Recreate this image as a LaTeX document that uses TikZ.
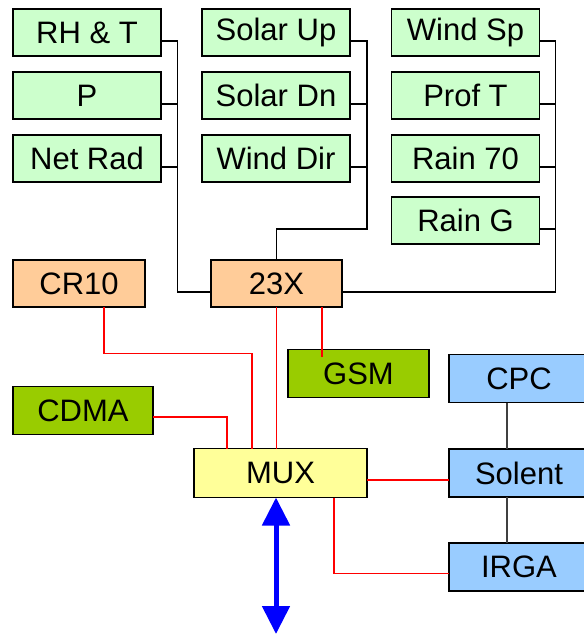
\documentclass[tikz,border=0pt]{standalone}
\usepackage{fontspec}
\setmainfont{Liberation Sans}
\usepackage{tikz}
\usetikzlibrary{arrows.meta,calc}
\usepackage{xcolor}
\definecolor{sensfill}{HTML}{CCFFCC}
\definecolor{logfill}{HTML}{FFCC99}
\definecolor{modfill}{HTML}{99CC00}
\definecolor{muxfill}{HTML}{FFFF99}
\definecolor{insfill}{HTML}{99CCFF}
\tikzset{
  box/.style={draw=black,line width=1.6pt,inner sep=0pt,outer sep=0pt,minimum height=47pt},
  sensor/.style={box,fill=sensfill,minimum width=148pt},
  logger/.style={box,fill=logfill,minimum width=132pt},
  modem/.style={box,fill=modfill,minimum width=140pt,minimum height=48pt},
  muxbox/.style={box,fill=muxfill,minimum width=173pt,minimum height=49pt},
  instr/.style={box,fill=insfill,minimum width=140pt,minimum height=48pt},
  wire/.style={draw=black,line width=1.5pt},
  rwire/.style={draw=red,line width=1.7pt},
  gwire/.style={draw=black!75,line width=1.7pt}
}

\begin{document}
\begin{tikzpicture}[x=1pt,y=-1pt,font=\fontsize{31}{36}\selectfont]
    \useasboundingbox (0,0) rectangle (584,635);
    % sensors
    \node[sensor] (rh) at (87,32.5) {RH \& T};
    \node[sensor] (p) at (87,95.5) {P};
    \node[sensor] (netrad) at (87,158.5) {Net Rad};
    \node[sensor] (solup) at (276,32.5) {Solar Up};
    \node[sensor] (soldn) at (276,95.5) {Solar Dn};
    \node[sensor] (winddir) at (276,158.5) {Wind Dir};
    \node[sensor] (windsp) at (465.5,32.5) {Wind Sp};
    \node[sensor] (proft) at (465.5,95.5) {Prof T};
    \node[sensor] (rain70) at (465.5,158.5) {Rain 70};
    \node[sensor] (raing) at (465.5,220.5) {Rain G};
    % loggers, modems
    \node[logger] (cr10) at (79,283.5) {CR10};
    \node[logger,minimum width=131pt] (x23) at (276.5,283.5) {23X};
    \node[modem,minimum width=141pt] (gsm) at (358.5,373.5) {GSM};
    \node[modem] (cdma) at (83,410.5) {CDMA};
    \node[muxbox] (mux) at (280.5,473) {MUX};
    \node[instr] (cpc) at (519,378.5) {CPC};
    \node[instr] (solent) at (519,473) {Solent};
    \node[instr] (irga) at (519,567) {IRGA};
    \coordinate (ext) at (276,634);

    % sensor buses to 23X
    \draw[wire] ([yshift=-8.5pt]rh.east) -| ([xshift=-33.5pt,yshift=-8.5pt]x23.west) -- ([yshift=-8.5pt]x23.west);
    \draw[wire] ([yshift=-8.5pt]p.east) -- ++(16.5,0);
    \draw[wire] ([yshift=-8.5pt]netrad.east) -- ++(16.5,0);
    \draw[wire] ([yshift=-8.5pt]solup.east) -- ++(17,0) |- ([yshift=31pt]x23.north) -- (x23.north);
    \draw[wire] ([yshift=-8.5pt]soldn.east) -- ++(17,0);
    \draw[wire] ([yshift=-8.5pt]winddir.east) -- ++(17,0);
    \draw[wire] ([yshift=-8.5pt]windsp.east) -- ++(16,0) |- ([yshift=-8.5pt]x23.east);
    \draw[wire] ([yshift=-8.5pt]proft.east) -- ++(16,0);
    \draw[wire] ([yshift=-8.5pt]rain70.east) -- ++(16,0);
    \draw[wire] ([yshift=-8.5pt]raing.east) -- ++(16,0);

    % links to MUX
    \draw[rwire] ([xshift=25pt]cr10.south) -- ++(0,46.5) -| ([xshift=-28.5pt]mux.north);
    \draw[rwire] (x23.south) -- (x23.south |- mux.north);
    \draw[rwire] ([xshift=45.5pt]x23.south) -- ([xshift=45.5pt,yshift=-7pt]x23.south |- gsm.north);
    \draw[rwire] ([yshift=-6.5pt]cdma.east) -| ([xshift=-53.5pt]mux.north);
    \draw[rwire] ([yshift=-7pt]mux.east) -- ([yshift=-7pt]solent.west);
    \draw[rwire] ([xshift=53.5pt]mux.south) |- ([yshift=-6.5pt]irga.west);
    \draw[gwire] ([xshift=-12pt]cpc.south) -- ([xshift=-12pt]solent.north);
    \draw[gwire] ([xshift=-12pt]solent.south) -- ([xshift=-12pt]irga.north);
    \draw[blue,line width=5pt,{Triangle[width=27pt,length=28pt]}-{Triangle[width=27pt,length=28pt]}] ([xshift=-4.5pt]mux.south) -- (ext);
  \end{tikzpicture}
\end{document}
